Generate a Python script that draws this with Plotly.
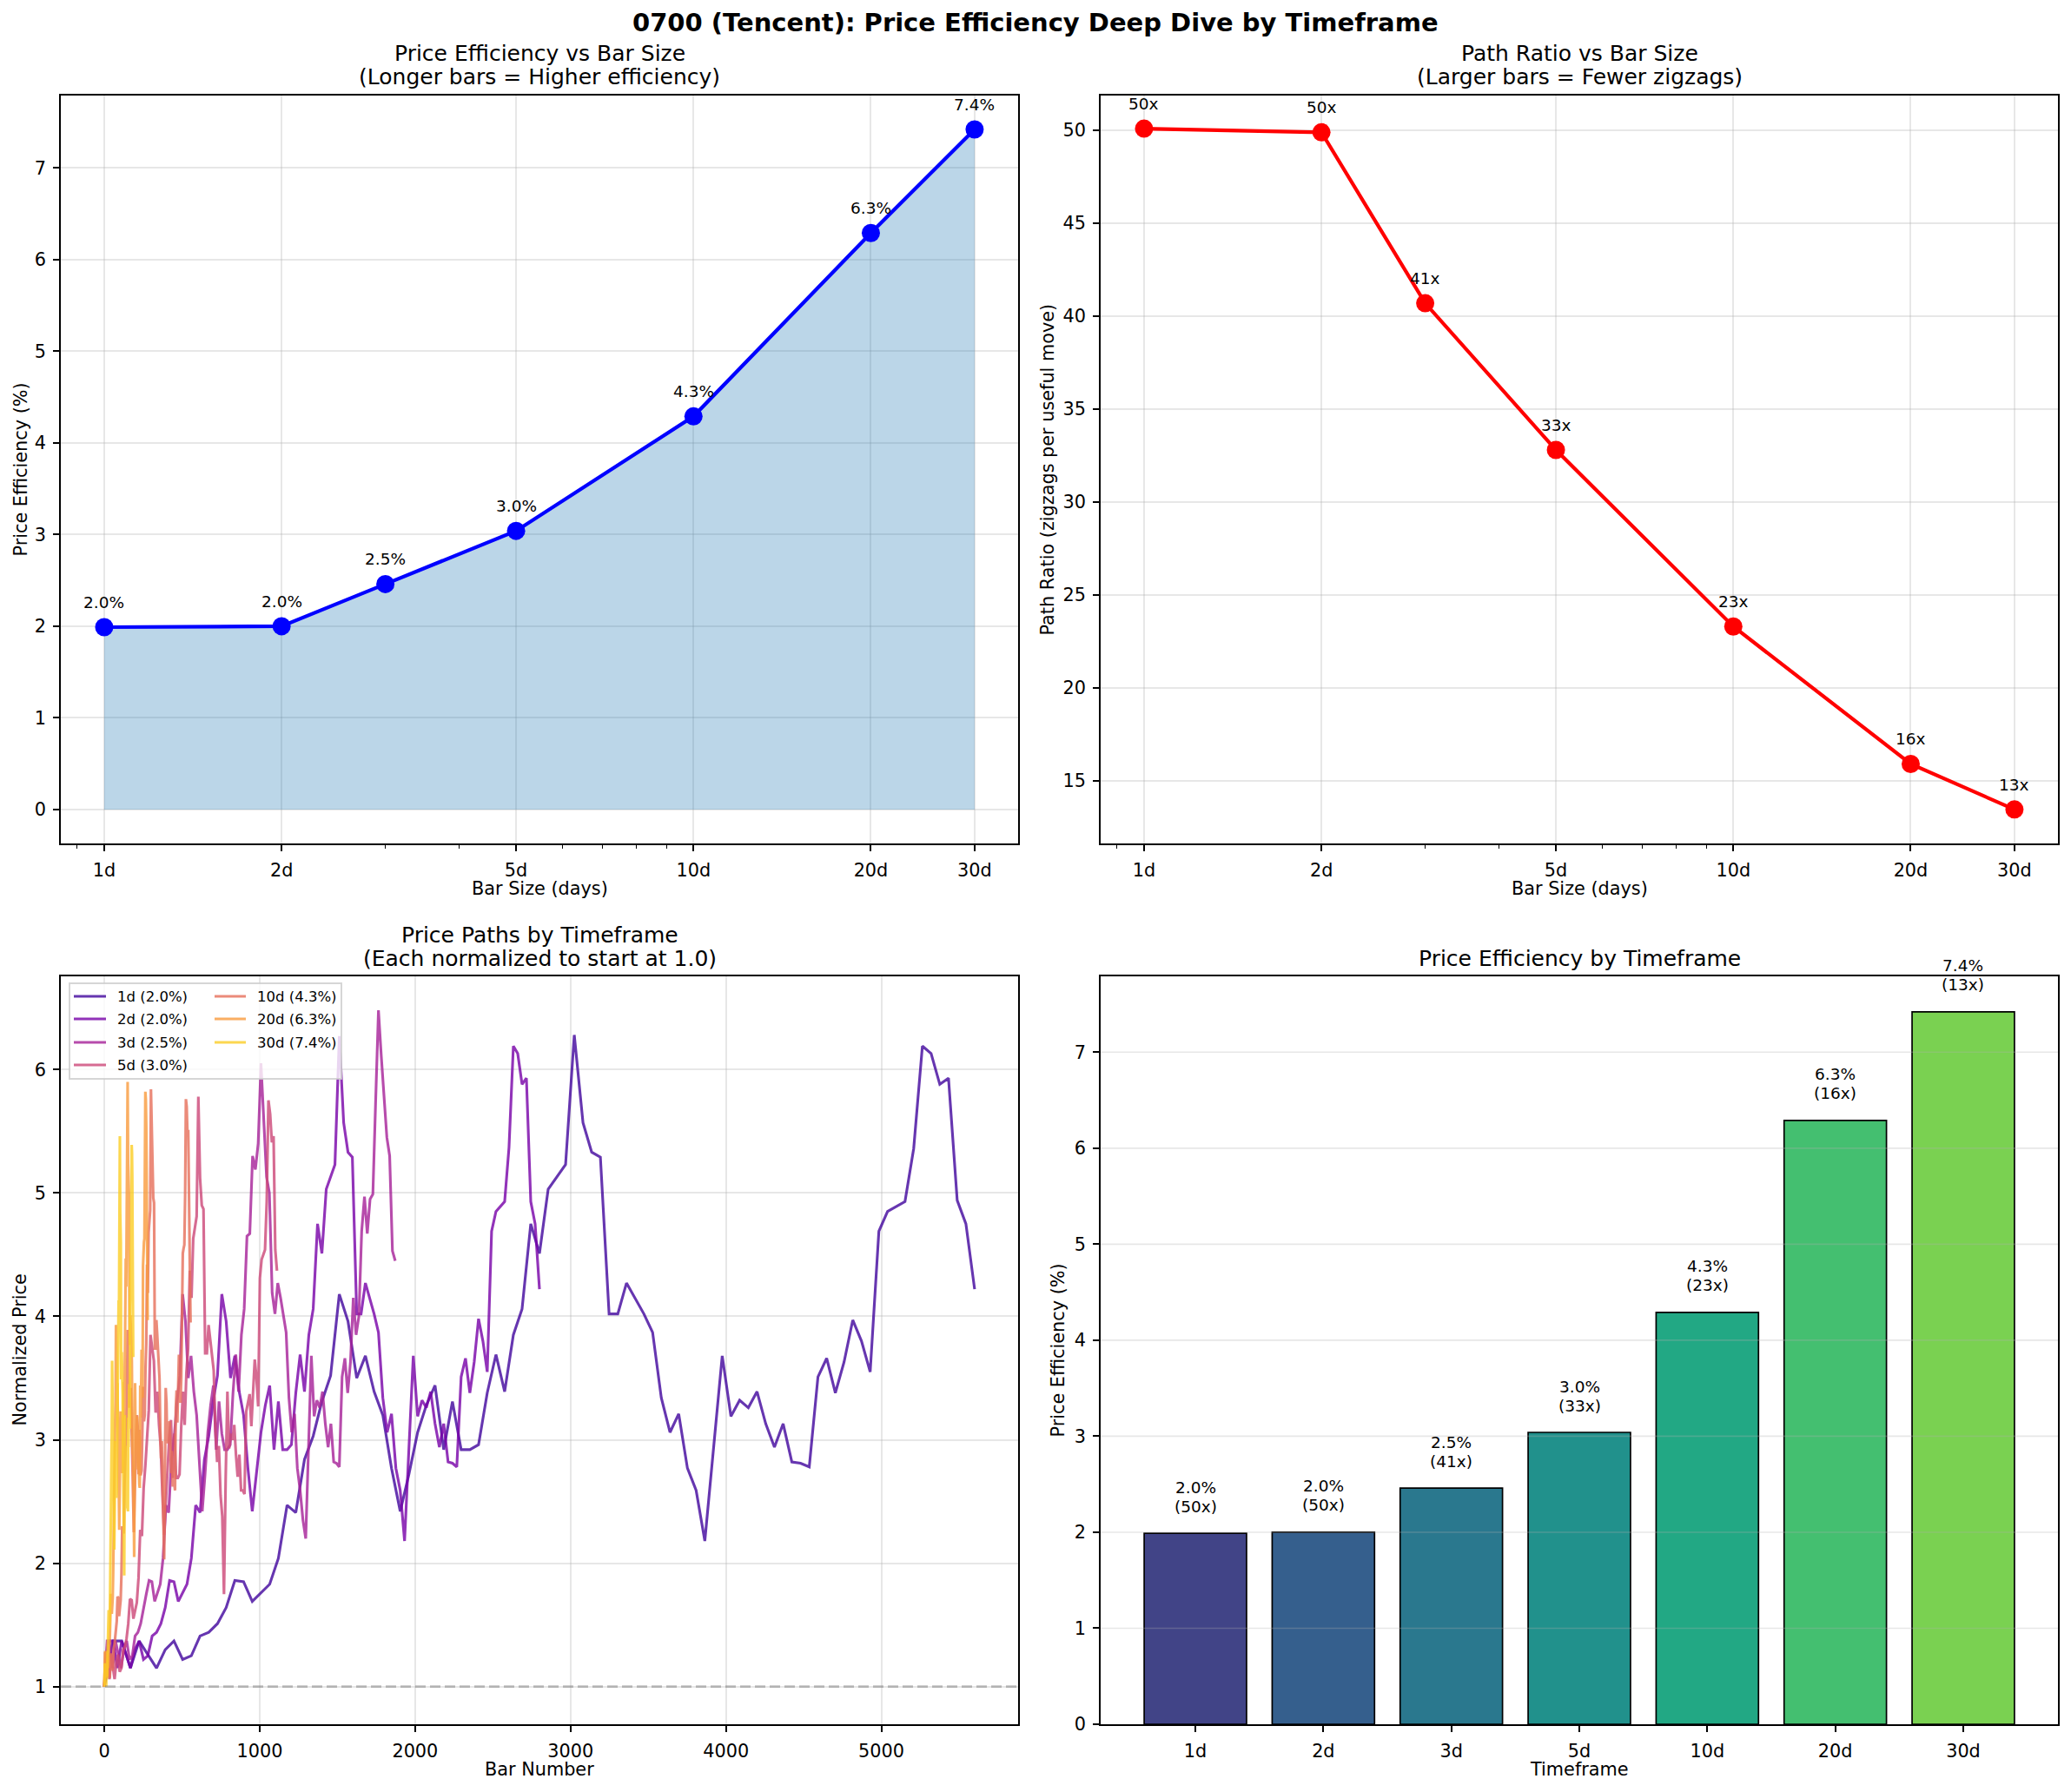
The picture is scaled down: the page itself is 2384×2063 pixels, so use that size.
import math
import plotly.graph_objects as go

W, H = 2384, 2063
FONT = "DejaVu Sans"

# ---------------- data ----------------
timeframes = ["1d", "2d", "3d", "5d", "10d", "20d", "30d"]
bar_days = [1, 2, 3, 5, 10, 20, 30]
efficiency_pct = [1.99, 2.00, 2.46, 3.04, 4.29, 6.29, 7.42]
path_ratio = [50.1, 49.9, 40.7, 32.8, 23.3, 15.9, 13.45]

# every n-th bar of each price path is drawn
path_step = [56, 28, 18, 11, 5, 3, 2]

path_1d = [1.00, 1.37, 1.37, 1.15, 1.37, 1.26, 1.15, 1.30, 1.37, 1.22,
           1.25, 1.41, 1.44, 1.51, 1.64, 1.86, 1.85, 1.69, 1.76, 1.83,
           2.04, 2.47, 2.41, 2.84, 3.03, 3.31, 3.52, 4.18, 3.96, 3.50,
           3.68, 3.39, 3.20, 2.77, 2.42, 2.72, 3.06, 3.28, 3.44, 2.92,
           3.31, 2.92, 2.92, 2.96, 3.38, 3.69, 3.39, 3.85, 4.06, 4.75,
           4.51, 5.03, 5.13, 5.23, 6.28, 5.57, 5.33, 5.29, 4.02, 4.02,
           4.27, 4.15, 4.02, 3.87, 3.34, 3.06, 3.21, 2.77, 2.59, 2.18,
           2.93, 3.68, 3.19, 3.32, 3.26, 3.39, 3.13, 2.94, 3.13, 2.82,
           2.81, 2.78, 3.51, 3.66, 3.38, 3.63, 3.97, 3.80, 3.55, 4.69,
           4.85, 4.89, 4.93, 5.36, 6.19, 6.13, 5.88, 5.93, 4.94, 4.75,
           4.22]

path_2d = [1.00, 1.37, 1.37, 1.15, 1.37, 1.26, 1.15, 1.30, 1.37, 1.22,
           1.25, 1.41, 1.44, 1.51, 1.64, 1.86, 1.85, 1.69, 1.76, 1.83,
           2.04, 2.47, 2.41, 2.84, 3.03, 3.31, 3.52, 4.18, 3.96, 3.50,
           3.68, 3.39, 3.20, 2.77, 2.42, 2.72, 3.06, 3.28, 3.44, 2.92,
           3.31, 2.92, 2.92, 2.96, 3.38, 3.69, 3.39, 3.85, 4.06, 4.75,
           4.51, 5.03, 5.13, 5.23, 6.27, 5.57, 5.33, 5.29, 4.02, 4.02,
           4.27, 4.15, 4.02, 3.87, 3.34, 3.06, 3.21, 2.77, 2.59, 2.18,
           2.93, 3.68, 3.19, 3.32, 3.26, 3.39, 3.13, 2.94, 3.13, 2.82,
           2.81, 2.78, 3.51, 3.66, 3.38, 3.63, 3.98, 3.80, 3.55, 4.69,
           4.85, 4.89, 4.93, 5.37, 6.19, 6.13, 5.88, 5.93, 4.93, 4.75,
           4.22]

path_3d = [1.00, 1.37, 1.37, 1.15, 1.37, 1.26, 1.15, 1.30, 1.37, 1.22,
           1.25, 1.41, 1.44, 1.51, 1.64, 1.75, 1.86, 1.85, 1.69, 1.76,
           1.83, 2.04, 2.47, 2.41, 2.84, 3.03, 3.31, 3.52, 4.18, 3.96,
           3.50, 3.68, 3.39, 3.20, 2.77, 2.42, 2.72, 3.06, 3.28, 3.44,
           2.92, 3.31, 3.05, 2.92, 2.92, 2.96, 3.38, 3.69, 3.39, 3.85,
           4.06, 4.65, 4.67, 5.30, 5.19, 5.40, 6.05, 5.53, 5.13, 5.00,
           4.19, 4.02, 4.27, 4.15, 4.02, 3.87, 3.34, 3.06, 3.21, 2.77,
           2.59, 2.35, 2.20, 2.93, 3.68, 3.19, 3.32, 3.26, 3.39, 3.13,
           2.94, 3.13, 2.82, 2.81, 2.78, 3.51, 3.66, 3.38, 3.63, 4.15,
           3.85, 4.00, 4.69, 4.97, 4.67, 4.95, 4.99, 5.75, 6.48, 6.11,
           5.75, 5.45, 5.30, 4.53, 4.45]

path_5d = [1.00, 1.26, 1.26, 1.06, 1.26, 1.16, 1.06, 1.20, 1.26, 1.12,
           1.15, 1.30, 1.32, 1.39, 1.51, 1.71, 1.70, 1.55, 1.62, 1.68,
           1.88, 2.27, 2.22, 2.61, 2.79, 3.05, 3.24, 3.85, 3.75, 3.64,
           3.22, 3.39, 3.12, 2.94, 2.55, 2.23, 2.50, 2.82, 3.02, 3.16,
           2.69, 3.05, 2.69, 2.69, 2.72, 3.11, 3.39, 3.12, 3.54, 3.74,
           4.37, 4.15, 4.63, 4.72, 4.81, 5.78, 5.12, 4.90, 4.87, 3.70,
           3.70, 3.93, 3.82, 3.70, 3.56, 3.07, 2.82, 2.95, 2.55, 2.38,
           1.75, 2.70, 3.39, 2.93, 3.05, 3.00, 3.12, 2.88, 2.70, 2.88,
           2.59, 2.59, 2.56, 3.23, 3.30, 3.37, 3.11, 3.34, 3.65, 3.50,
           3.27, 4.31, 4.46, 4.50, 4.54, 4.93, 5.75, 5.64, 5.41, 5.46,
           4.54, 4.37]

path_10d = [1.00, 1.27, 1.27, 1.07, 1.27, 1.20, 1.17, 1.07, 1.21, 1.27,
            1.13, 1.16, 1.31, 1.34, 1.40, 1.45, 1.53, 1.73, 1.72, 1.57,
            1.64, 1.70, 1.90, 2.30, 2.27, 2.24, 2.64, 2.82, 3.08, 3.27,
            3.89, 3.68, 3.26, 3.30, 3.42, 3.15, 2.98, 2.58, 2.25, 2.53,
            2.85, 3.05, 3.20, 3.10, 2.72, 3.08, 2.72, 2.72, 2.75, 3.14,
            3.43, 3.15, 3.20, 3.58, 3.78, 4.42, 4.19, 4.68, 4.77, 4.86,
            5.84, 5.60, 5.18, 4.96, 4.92, 3.74, 3.74, 3.97, 3.86, 3.74,
            3.60, 3.50, 3.11, 2.85, 2.99, 2.58, 2.41, 2.03, 2.72, 3.42,
            3.30, 2.97, 3.09, 3.03, 3.15, 2.91, 2.73, 2.91, 2.62, 2.70,
            2.61, 2.59, 3.26, 3.40, 3.14, 3.38, 3.69, 3.53, 3.30, 3.50,
            4.36, 4.51, 4.55, 4.58, 4.98, 5.76, 5.70, 5.47, 5.51, 4.59,
            4.42, 3.95]

path_20d = [1.00, 1.29, 1.29, 1.08, 1.29, 1.18, 1.08, 1.29, 1.15, 1.18,
            1.33, 1.35, 1.42, 1.54, 1.75, 1.74, 1.59, 1.65, 1.72, 1.92,
            2.32, 2.67, 2.85, 3.11, 3.31, 3.93, 3.72, 3.29, 3.46, 3.19,
            3.01, 2.60, 2.27, 2.56, 2.88, 3.23, 2.74, 3.11, 2.74, 2.74,
            2.78, 3.18, 3.47, 3.19, 3.62, 3.82, 4.47, 4.24, 4.73, 4.92,
            5.90, 5.24, 5.01, 4.97, 3.78, 3.78, 4.01, 3.90, 3.78, 3.64,
            3.14, 2.88, 3.02, 2.43, 2.05, 2.75, 3.46, 3.00, 3.12, 3.06,
            3.19, 2.94, 2.76, 2.94, 2.65, 2.64, 2.61, 3.44, 3.18, 3.41,
            3.73, 3.57, 3.34, 4.41, 4.56, 4.60, 4.63, 5.04, 5.82, 5.76,
            5.53, 4.64, 4.47, 3.97]

path_30d = [1.00, 1.19, 1.19, 1.00, 1.19, 1.10, 1.00, 1.19, 1.06, 1.09,
            1.23, 1.25, 1.31, 1.43, 1.62, 1.61, 1.47, 1.53, 1.59, 1.77,
            2.15, 2.47, 2.64, 2.88, 3.06, 3.64, 3.45, 3.05, 3.20, 2.95,
            2.78, 2.41, 2.11, 2.37, 2.66, 2.99, 2.54, 2.88, 2.54, 2.54,
            2.58, 2.94, 3.21, 2.95, 3.35, 3.53, 4.13, 3.92, 4.38, 4.55,
            5.46, 4.85, 4.64, 4.60, 3.50, 3.50, 3.71, 3.61, 3.50, 3.37,
            2.91, 2.66, 2.79, 2.25, 1.90, 2.55, 3.20, 2.78, 2.89, 2.84,
            2.95, 2.72, 2.56, 2.72, 2.45, 2.44, 2.42, 3.18, 2.94, 3.16,
            3.45, 3.31, 3.09, 4.08, 4.22, 4.25, 4.29, 4.66, 5.39, 5.33,
            5.12, 4.30, 4.13, 3.67]

paths = [path_1d, path_2d, path_3d, path_5d, path_10d, path_20d, path_30d]

# ---------------- styles ----------------
path_colors = ["#41049d", "#7701a8", "#a62098", "#cc4778", "#e76f5a", "#f99b3d", "#fcce25"]
bar_colors = ["#414487", "#355f8d", "#2a788e", "#21918c", "#22a884", "#44bf70", "#7ad151"]
GRID = "rgba(176,176,176,0.3)"
TICK = 20.8
LABEL = 20.8
TITLE = 25
ANN = 18.5
LEG = 16.5


def px(X):
    return X / W


def py(Y):
    return 1 - Y / H


XL = (70, 1172)
XR = (1267, 2369)
YT = (110, 971)
YB = (1124, 1985)

fig = go.Figure()

# ---- panel 1: efficiency vs bar size ----
fig.add_trace(go.Scatter(x=bar_days, y=efficiency_pct, mode="lines", fill="tozeroy",
                         fillcolor="rgba(31,119,180,0.3)", line=dict(width=0, color="rgba(0,0,0,0)"),
                         xaxis="x", yaxis="y", showlegend=False, hoverinfo="skip"))
fig.add_trace(go.Scatter(x=bar_days, y=efficiency_pct, mode="lines+markers",
                         line=dict(color="#0000ff", width=4.2),
                         marker=dict(size=21, color="#0000ff"),
                         xaxis="x", yaxis="y", showlegend=False))

# ---- panel 2: path ratio ----
fig.add_trace(go.Scatter(x=bar_days, y=path_ratio, mode="lines+markers",
                         line=dict(color="#ff0000", width=4.2),
                         marker=dict(size=21, color="#ff0000"),
                         xaxis="x2", yaxis="y2", showlegend=False))

# ---- panel 3: price paths ----
for vals, step, col, tf in zip(paths, path_step, path_colors, timeframes):
    fig.add_trace(go.Scatter(x=[k * step for k in range(len(vals))], y=vals, mode="lines",
                             line=dict(color=col, width=3.1), opacity=0.8,
                             xaxis="x3", yaxis="y3", showlegend=False, name=tf))
fig.add_trace(go.Scatter(x=[-280, 5880], y=[1, 1], mode="lines",
                         line=dict(color="rgba(128,128,128,0.5)", width=2.6, dash="12px,5px"),
                         xaxis="x3", yaxis="y3", showlegend=False, hoverinfo="skip"))

# ---- panel 4: bars ----
fig.add_trace(go.Bar(x=timeframes, y=efficiency_pct, width=0.8,
                     marker=dict(color=bar_colors, line=dict(color="black", width=1.7)),
                     xaxis="x4", yaxis="y4", showlegend=False))

# ---------------- axes ----------------
base = dict(showline=True, linecolor="black", linewidth=1.7, mirror=True,
            ticks="outside", ticklen=7, tickwidth=1.6, tickcolor="black",
            tickfont=dict(family=FONT, size=TICK, color="black"),
            showgrid=True, gridcolor=GRID, gridwidth=1.6, zeroline=False,
            ticklabelstandoff=4, automargin=False)

logx = dict(type="log", range=[math.log10(0.844), math.log10(35.56)],
            tickmode="array", tickvals=[1, 2, 5, 10, 20, 30],
            ticktext=["1d", "2d", "5d", "10d", "20d", "30d"],
            minor=dict(tickmode="array", tickvals=[0.9, 3, 4, 6, 7, 8, 9],
                       ticks="outside", ticklen=4, tickwidth=1.2, tickcolor="black", showgrid=False))

fig.update_layout(
    template="none",
    xaxis=dict(base, **logx, domain=[px(XL[0]), px(XL[1])], anchor="y"),
    yaxis=dict(base, range=[-0.37, 7.79], tickmode="array", tickvals=list(range(0, 8)),
               domain=[py(YT[1]), py(YT[0])], anchor="x"),
    xaxis2=dict(base, **logx, domain=[px(XR[0]), px(XR[1])], anchor="y2"),
    yaxis2=dict(base, range=[11.62, 51.88], tickmode="array", tickvals=[15, 20, 25, 30, 35, 40, 45, 50],
                domain=[py(YT[1]), py(YT[0])], anchor="x2"),
    xaxis3=dict(base, range=[-280, 5880], tickmode="array", tickvals=[0, 1000, 2000, 3000, 4000, 5000],
                domain=[px(XL[0]), px(XL[1])], anchor="y3"),
    yaxis3=dict(base, range=[0.695, 6.755], tickmode="array", tickvals=[1, 2, 3, 4, 5, 6],
                domain=[py(YB[1]), py(YB[0])], anchor="x3"),
    xaxis4=dict(base, type="category", range=[-0.74, 6.74], showgrid=False,
                domain=[px(XR[0]), px(XR[1])], anchor="y4"),
    yaxis4=dict(base, range=[0, 7.79], tickmode="array", tickvals=list(range(0, 8)), showgrid=False,
                domain=[py(YB[1]), py(YB[0])], anchor="x4"),
)

shapes = []
# horizontal grid above bars (panel 4)
for gy in range(1, 8):
    shapes.append(dict(type="line", xref="x4 domain", x0=0, x1=1, yref="y4", y0=gy, y1=gy,
                       line=dict(color=GRID, width=1.6), layer="above"))

annotations = []


def text(x, y, t, size, **kw):
    d = dict(x=x, y=y, xref="paper", yref="paper", text=t, showarrow=False,
             font=dict(family=FONT, size=size, color="black"), xanchor="center", yanchor="middle")
    d.update(kw)
    annotations.append(d)


# titles
text(px(1192), py(26), "<b>0700 (Tencent): Price Efficiency Deep Dive by Timeframe</b>", 29)
cxL = (XL[0] + XL[1]) / 2
cxR = (XR[0] + XR[1]) / 2
text(px(cxL), py(62), "Price Efficiency vs Bar Size", TITLE)
text(px(cxL), py(89), "(Longer bars = Higher efficiency)", TITLE)
text(px(cxR), py(62), "Path Ratio vs Bar Size", TITLE)
text(px(cxR), py(89), "(Larger bars = Fewer zigzags)", TITLE)
text(px(cxL), py(1076), "Price Paths by Timeframe", TITLE)
text(px(cxL), py(1103), "(Each normalized to start at 1.0)", TITLE)
text(px(cxR), py(1103), "Price Efficiency by Timeframe", TITLE)

# axis labels
text(px(cxL), py(1023), "Bar Size (days)", LABEL)
text(px(cxR), py(1023), "Bar Size (days)", LABEL)
text(px(cxL), py(2037), "Bar Number", LABEL)
text(px(cxR), py(2037), "Timeframe", LABEL)
cyT = (YT[0] + YT[1]) / 2
cyB = (YB[0] + YB[1]) / 2
text(px(24), py(cyT), "Price Efficiency (%)", LABEL, textangle=-90)
text(px(1206), py(cyT), "Path Ratio (zigzags per useful move)", LABEL, textangle=-90)
text(px(22), py(cyB), "Normalized Price", LABEL, textangle=-90)
text(px(1217), py(cyB), "Price Efficiency (%)", LABEL, textangle=-90)

# point labels
for d, e in zip(bar_days, efficiency_pct):
    annotations.append(dict(x=math.log10(d), y=e, xref="x", yref="y", text=f"{e:.1f}%",
                            showarrow=False, yanchor="bottom", yshift=16,
                            font=dict(family=FONT, size=ANN, color="black")))
for d, r in zip(bar_days, path_ratio):
    annotations.append(dict(x=math.log10(d), y=r, xref="x2", yref="y2", text=f"{r:.0f}x",
                            showarrow=False, yanchor="bottom", yshift=16,
                            font=dict(family=FONT, size=ANN, color="black")))
for tf, e, r in zip(timeframes, efficiency_pct, path_ratio):
    annotations.append(dict(x=tf, y=e, xref="x4", yref="y4", text=f"({r:.0f}x)",
                            showarrow=False, yanchor="middle", yshift=31,
                            font=dict(family=FONT, size=ANN, color="black")))
    annotations.append(dict(x=tf, y=e, xref="x4", yref="y4", text=f"{e:.1f}%",
                            showarrow=False, yanchor="middle", yshift=53,
                            font=dict(family=FONT, size=ANN, color="black")))

# manual legend (two columns, column-major like the original)
shapes.append(dict(type="rect", xref="paper", yref="paper", x0=px(80), x1=px(393), y0=py(1242), y1=py(1132),
                   fillcolor="rgba(255,255,255,0.8)", line=dict(color="rgba(204,204,204,0.8)", width=2),
                   layer="above"))
leg_rows = [1147, 1173, 1200, 1226]
for k, (tf, e, col) in enumerate(zip(timeframes, efficiency_pct, path_colors)):
    c = 0 if k < 4 else 1
    r = k if k < 4 else k - 4
    lx0, lx1, tx = (85, 122, 133) if c == 0 else (247, 283, 294)
    yy = leg_rows[r]
    shapes.append(dict(type="line", xref="paper", yref="paper", x0=px(lx0), x1=px(lx1), y0=py(yy), y1=py(yy),
                       line=dict(color=col, width=3.1), opacity=0.8, layer="above"))
    text(px(tx), py(yy), f"{tf} ({e:.1f}%)", LEG, xanchor="left")

fig.update_layout(
    width=W, height=H, autosize=False,
    margin=dict(l=0, r=0, t=0, b=0, pad=0, autoexpand=False),
    paper_bgcolor="white", plot_bgcolor="white",
    font=dict(family=FONT, size=TICK, color="black"),
    shapes=shapes, annotations=annotations,
    showlegend=False, bargap=0.2,
)

fig.write_html("out.html")
